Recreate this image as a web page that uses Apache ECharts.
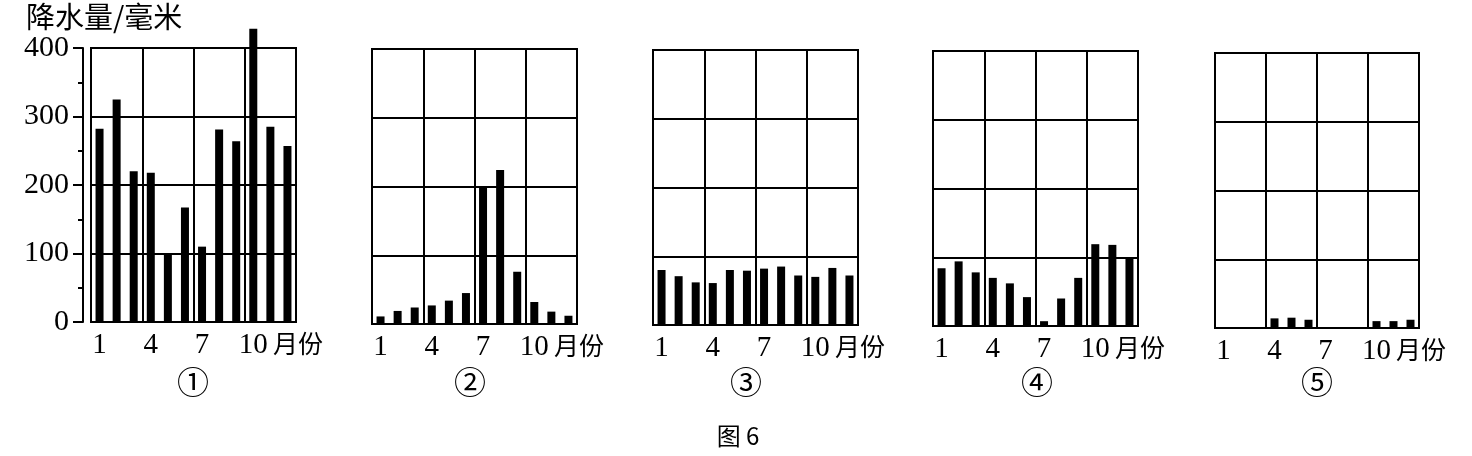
<!DOCTYPE html>
<html>
<head>
<meta charset="utf-8">
<script src="https://cdn.jsdelivr.net/npm/echarts@6/dist/echarts.min.js"></script>
<style>
  html, body { margin: 0; padding: 0; background: #fff; }
  #chart { width: 1472px; height: 456px; }
</style>
</head>
<body>
<div id="chart"></div>
<script>
// ---- data ----
const months = ['1','2','3','4','5','6','7','8','9','10','11','12'];
const station1 = [282, 325, 220, 218, 100, 167, 110, 281, 264, 428, 285, 257];
const station2 = [11, 19, 24, 27, 34, 45, 200, 224, 76, 32, 18, 12];
const station3 = [80, 71, 62, 61, 80, 79, 82, 85, 72, 70, 83, 72];
const station4 = [84, 94, 78, 70, 62, 42, 7, 40, 70, 119, 118, 98];
const station5 = [0, 0, 0, 14, 15, 12, 0, 0, 0, 10, 10, 12];
const panelLabels = ['①', '②', '③', '④', '⑤'];
const yMin = 0, yMax = 400, yStep = 100;
const yTitle = '降水量/毫米';
const xUnit = '月份';
const figureCaption = '图 6';

const allData = [station1, station2, station3, station4, station5];

// ---- layout ----
const grids = [
  { left: 91,   top: 48, width: 205, height: 274 },
  { left: 372,  top: 49, width: 205, height: 275 },
  { left: 653,  top: 50, width: 205, height: 275 },
  { left: 933,  top: 51, width: 205, height: 275 },
  { left: 1215, top: 53, width: 204, height: 275 }
];
const labelCenters = [193, 470, 746, 1037, 1317];

const serif = '"Liberation Serif", "Times New Roman", serif';
const cjk = '"Noto Sans CJK SC", sans-serif';

const option = {
  backgroundColor: '#fff',
  animation: false,
  grid: grids.map(g => Object.assign({
    show: true, borderColor: '#000', borderWidth: 2, backgroundColor: 'transparent', containLabel: false
  }, g)),
  xAxis: grids.map((g, i) => ({
    type: 'category',
    gridIndex: i,
    data: months,
    boundaryGap: true,
    axisLine: { show: true, lineStyle: { color: '#000', width: 2 } },
    axisTick: { show: false },
    splitLine: { show: true, interval: 2, lineStyle: { color: '#000', width: 2 } },
    axisLabel: {
      interval: 2, margin: 9, color: '#000',
      fontFamily: serif, fontSize: 29
    },
    name: xUnit,
    nameLocation: 'end',
    nameGap: -23,
    nameMoveOverlap: false,
    nameTextStyle: {
      color: '#000', fontFamily: cjk, fontSize: 25,
      align: 'left', verticalAlign: 'top', padding: [9, 0, 0, 0]
    }
  })),
  yAxis: grids.map((g, i) => ({
    type: 'value',
    gridIndex: i,
    min: yMin, max: yMax, interval: yStep,
    offset: i === 0 ? 8 : 0,
    axisLine: { show: i === 0, lineStyle: { color: '#000', width: 2 } },
    axisTick: { show: i === 0, length: 10, lineStyle: { color: '#000', width: 2 } },
    minorTick: { show: i === 0, splitNumber: 2, length: 5, lineStyle: { color: '#000', width: 2 } },
    splitLine: { show: true, lineStyle: { color: '#000', width: 2 } },
    axisLabel: {
      show: i === 0, margin: 14, color: '#000',
      fontFamily: serif, fontSize: 30
    }
  })),
  series: allData.map((d, i) => ({
    type: 'bar',
    xAxisIndex: i,
    yAxisIndex: i,
    data: d,
    barWidth: 8,
    clip: false,
    silent: true,
    itemStyle: { color: '#000' }
  })),
  graphic: [
    {
      type: 'text', x: 26, y: 17,
      style: { text: yTitle, font: '29px ' + cjk, fill: '#000', textAlign: 'left', textVerticalAlign: 'middle' }
    },
    ...panelLabels.map((t, i) => ({
      type: 'text', x: labelCenters[i], y: 382,
      style: { text: t, font: '32px ' + cjk, fill: '#000', textAlign: 'center', textVerticalAlign: 'middle' }
    })),
    {
      type: 'text', x: 738, y: 436,
      style: { text: figureCaption, font: '24px ' + cjk, fill: '#000', textAlign: 'center', textVerticalAlign: 'middle' }
    }
  ]
};

const chart = echarts.init(document.getElementById('chart'), null, { renderer: 'canvas' });
chart.setOption(option);
</script>
</body>
</html>
